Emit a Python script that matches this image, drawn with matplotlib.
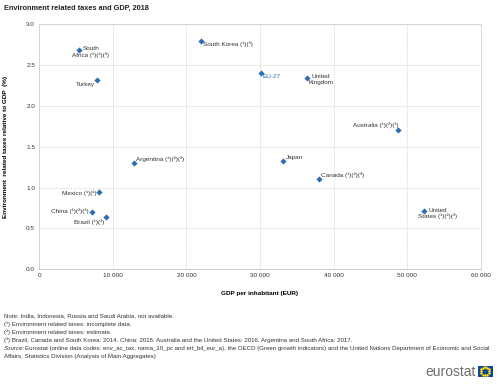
import numpy as np
import matplotlib
matplotlib.use("Agg")
import matplotlib.pyplot as plt
from matplotlib.ticker import FuncFormatter, MultipleLocator

plt.rcParams['font.family'] = ['Liberation Sans', 'DejaVu Sans']

countries = ["South\nAfrica (¹)(²)(³)", "Turkey", "South Korea (¹)(³)", "EU-27",
             "United\nKingdom", "Australia (¹)(²)(³)", "Argentina (¹)(²)(³)",
             "Mexico (¹)(²)", "China (¹)(²)(³)", "Brazil (¹)(³)", "Japan",
             "Canada (¹)(²)(³)", "United\nStates (¹)(²)(³)"]
gdp = [5350, 7900, 22000, 30100, 36400, 48800, 12900, 8100, 7100, 9100, 33100, 38000, 52300]
taxes = [2.68, 2.32, 2.80, 2.41, 2.34, 1.70, 1.30, 0.95, 0.70, 0.64, 1.33, 1.10, 0.71]

# label placement: (dx, dy in pixels, ha, va)
placement = [(12, 4, 'center', 'top'), (-2, -2, 'right', 'top'), (2, -1, 'left', 'top'),
             (2, -1, 'left', 'top'), (14, 4, 'center', 'top'), (0, 2, 'right', 'bottom'),
             (2, 1, 'left', 'bottom'), (-2, -1, 'right', 'center'), (-3, 1, 'right', 'center'),
             (-2, -2, 'right', 'top'), (3, 1, 'left', 'bottom'), (2, 1, 'left', 'bottom'),
             (14, 3, 'center', 'top')]

blue = '#2E6DB4'

fig = plt.figure(figsize=(5, 3.86), dpi=100)
ax = fig.add_axes([0.0786, 0.3023, 0.8828, 0.6347])

ax.scatter(gdp, taxes, marker='D', s=10, color=blue, zorder=3, linewidths=0)
for name, x, y, (dx, dy, ha, va) in zip(countries, gdp, taxes, placement):
    ax.annotate(name, (x, y), xytext=(dx * 0.72, dy * 0.72), textcoords='offset points',
                ha=ha, va=va, multialignment='center', fontsize=4.6,
                color=blue if name == "EU-27" else '#333333', linespacing=1.1)

ax.set_xlim(0, 60000)
ax.set_ylim(0, 3.0)
ax.xaxis.set_major_locator(MultipleLocator(10000))
ax.yaxis.set_major_locator(MultipleLocator(0.5))
ax.xaxis.set_major_formatter(FuncFormatter(lambda v, p: f"{int(v):,}".replace(",", " ")))
ax.yaxis.set_major_formatter(FuncFormatter(lambda v, p: f"{v:.1f}"))
ax.tick_params(labelsize=4.6, length=0, pad=3, colors='#333333')
ax.grid(True, color='#d0d0d0', linestyle=(0, (1, 1)), linewidth=0.6)
ax.set_axisbelow(True)
for side in ['top', 'right', 'left']:
    ax.spines[side].set_color('#d0d0d0')
    ax.spines[side].set_linestyle((0, (1, 1)))
    ax.spines[side].set_linewidth(0.6)
ax.spines['bottom'].set_color('#c0c0c0')
ax.spines['bottom'].set_linewidth(0.6)

ax.set_xlabel("GDP per inhabitant (EUR)", fontsize=4.6, fontweight='bold', labelpad=9)
ax.set_ylabel("Environment  related taxes relative to GDP  (%)", fontsize=4.6,
              fontweight='bold', labelpad=13)

fig.text(0.008, 0.979, "Environment related taxes and GDP, 2018", fontsize=5.3,
         fontweight='bold', va='center', color='#222222')

notes = ["Note: India, Indonesia, Russia and Saudi Arabia, not available.",
         "(¹) Environment related taxes: incomplete data.",
         "(²) Environment related taxes: estimate.",
         "(³) Brazil, Canada and South Korea: 2014. China: 2015. Australia and the United States: 2016. Argentina and South Africa: 2017."]
y0 = 0.1813
dy_line = 0.021
for i, line in enumerate(notes):
    fig.text(0.008, y0 - i * dy_line, line, fontsize=4.4, va='center', color='#333333')
fig.text(0.008, y0 - 4 * dy_line, "Source:", fontsize=4.4, va='center', style='italic', color='#333333')
fig.text(0.05, y0 - 4 * dy_line,
         "Eurostat (online data codes: env_ac_tax, nama_10_pc and ert_bil_eur_a), the OECD (Green growth indicators) and the United Nations Department of Economic and Social",
         fontsize=4.4, va='center', color='#333333')
fig.text(0.008, y0 - 5 * dy_line, "Affairs, Statistics Division (Analysis of Main Aggregates)",
         fontsize=4.4, va='center', color='#333333')

fig.text(0.951, 0.035, "eurostat", fontsize=10, color='#6d6d6d', ha='right', va='center')
flag = fig.add_axes([0.955, 0.023, 0.03, 0.03])
flag.set_facecolor('#0e47a1')
ang = np.linspace(0, 2 * np.pi, 12, endpoint=False)
flag.scatter(0.5 + 0.28 * np.cos(ang), 0.5 + 0.35 * np.sin(ang), s=0.6, color='#ffdd00', marker='*')
flag.set_xlim(0, 1)
flag.set_ylim(0, 1)
flag.set_xticks([])
flag.set_yticks([])
for s in flag.spines.values():
    s.set_visible(False)

fig.savefig("out.png", dpi=100)
